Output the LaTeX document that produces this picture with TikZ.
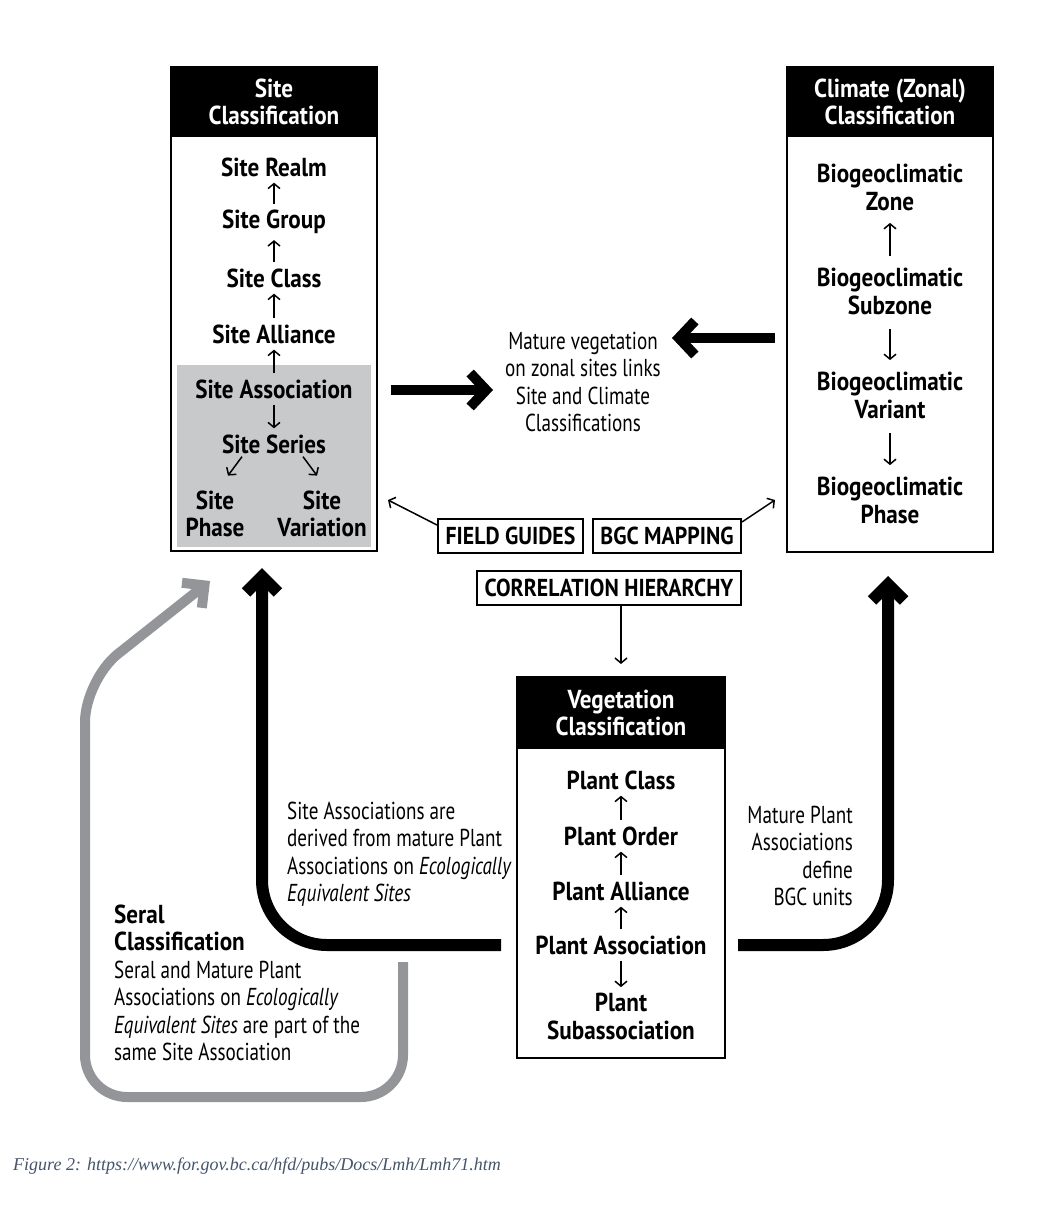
\documentclass[tikz,border=0pt]{standalone}
\usepackage{fontspec}
\setmainfont[FakeStretch=0.89]{PT Sans}
\newfontfamily\notefont[FakeStretch=0.78]{PT Sans}
\newfontfamily\capfont{Liberation Serif}
\usetikzlibrary{arrows.meta,positioning}
\definecolor{shade}{HTML}{C8C9CB}
\definecolor{loopgray}{HTML}{939598}
\definecolor{capcol}{HTML}{44546A}

\begin{document}
\begin{tikzpicture}[x=1pt,y=-1pt,>={Straight Barb[length=5pt,width=12pt]},
  frame/.style={draw,line width=2pt,minimum width=206pt,inner sep=0pt},
  head/.style={fill=black,text=white,align=center,minimum width=206pt,minimum height=71pt,
    inner sep=0pt,font=\bfseries\fontsize{26}{27}\selectfont},
  item/.style={align=center,inner sep=0pt,font=\bfseries\fontsize{26}{27.5}\selectfont},
  note/.style={inner sep=0pt,font=\notefont\fontsize{24.5}{27.5}\selectfont},
  tag/.style={draw,line width=2pt,minimum height=34pt,inner sep=3pt,font=\bfseries\fontsize{24.5}{27}\selectfont},
  thin/.style={->,line width=1.5pt,shorten <=6pt,shorten >=6pt},
  fat/.style={-{Straight Barb[length=16pt,width=34pt]},line width=10pt},
  loop/.style={-{Straight Barb[length=16pt,width=32pt]},line width=12pt,rounded corners=65pt}]

  \useasboundingbox (0,0) rectangle (1042,1208);

  % site classification
  \node[frame,minimum height=484pt] (siteBox) at (274,309) {};
  \node[fill=shade,minimum width=194pt,minimum height=182pt,inner sep=0pt,anchor=south] (assocZone) at ([yshift=5pt]siteBox.south) {};
  \node[head,anchor=north] (siteHead) at (siteBox.north) {Site\\Classification};
  \node[item] (sRealm) at (274,167) {Site Realm};
  \node[item] (sGroup) at (274,222) {Site Group};
  \node[item] (sClass) at (274,278) {Site Class};
  \node[item] (sAlliance) at (274,334) {Site Alliance};
  \node[item] (sAssoc) at (274,389) {Site Association};
  \node[item] (sSeries) at (274,444) {Site Series};
  \node[item] (sPhase) at (215,514) {Site\\Phase};
  \node[item] (sVar) at (322,514) {Site\\Variation};
  \draw[thin] (sGroup) -- (sRealm);
  \draw[thin] (sClass) -- (sGroup);
  \draw[thin] (sAlliance) -- (sClass);
  \draw[thin] (sAssoc) -- (sAlliance);
  \draw[thin] (sAssoc) -- (sSeries);
  \draw[thin,shorten <=0pt,shorten >=0pt] ([xshift=-32pt,yshift=-3pt]sSeries.south) -- ([xshift=13pt,yshift=15pt]sPhase.north);
  \draw[thin,shorten <=0pt,shorten >=0pt] ([xshift=29pt,yshift=-3pt]sSeries.south) -- ([xshift=-5pt,yshift=15pt]sVar.north);

  % climate classification
  \node[frame,minimum height=485pt] (climBox) at (890,309.5) {};
  \node[head,anchor=north] (climHead) at (climBox.north) {Climate (Zonal)\\Classification};
  \node[item] (cZone) at (890,187.5) {Biogeoclimatic\\Zone};
  \node[item] (cSubzone) at (890,291.5) {Biogeoclimatic\\Subzone};
  \node[item] (cVariant) at (890,395.5) {Biogeoclimatic\\Variant};
  \node[item] (cPhase) at (890,500.5) {Biogeoclimatic\\Phase};
  \draw[thin,shorten <=12pt,shorten >=12pt] (cSubzone) -- (cZone);
  \draw[thin,shorten <=14pt,shorten >=12pt] (cSubzone) -- (cVariant);
  \draw[thin,shorten <=14pt,shorten >=12pt] (cVariant) -- (cPhase);

  % links in the middle
  \node[note,align=center] (linkNote) at (583,382) {Mature vegetation\\on zonal sites links\\Site and Climate\\Classifications};
  \coordinate (linkR) at (672,338);
  \coordinate (linkL) at (493,390);
  \draw[fat,shorten <=11pt] ([yshift=-28.5pt]climBox.west) -- (linkR);
  \draw[fat,shorten <=13pt] ([yshift=-81pt]siteBox.east) -- (linkL);

  \node[tag,minimum width=145pt] (fieldGuides) at (510.5,536) {FIELD GUIDES};
  \node[tag,minimum width=148pt] (bgcMap) at (667,536) {BGC MAPPING};
  \node[tag,minimum width=264pt] (corrHier) at (609,588) {CORRELATION HIERARCHY};
  \draw[thin,shorten <=0pt,shorten >=0pt] ([yshift=-7pt]fieldGuides.north west) -- ([xshift=10pt,yshift=-191pt]siteBox.east);
  \draw[thin,shorten <=0pt,shorten >=0pt] ([yshift=-4pt]bgcMap.north east) -- ([xshift=-11pt,yshift=-190.5pt]climBox.west);

  % vegetation classification
  \node[frame,minimum width=208pt,minimum height=381pt] (vegBox) at (621,867.5) {};
  \node[head,minimum width=208pt,minimum height=73pt,anchor=north] (vegHead) at (vegBox.north) {Vegetation\\Classification};
  \node[item] (pClass) at (621,780) {Plant Class};
  \node[item] (pOrder) at (621,836) {Plant Order};
  \node[item] (pAlliance) at (621,891) {Plant Alliance};
  \node[item] (pAssoc) at (621,945) {Plant Association};
  \node[item] (pSub) at (621,1016.5) {Plant\\Subassociation};
  \draw[thin] (pOrder) -- (pClass);
  \draw[thin] (pAlliance) -- (pOrder);
  \draw[thin] (pAssoc) -- (pAlliance);
  \draw[thin] (pAssoc) -- (pSub);
  \draw[thin,shorten <=0pt,shorten >=12pt] (vegHead.north |- corrHier.south) -- (vegHead.north);

  % loops back up
  \draw[loop,shorten <=15pt,shorten >=16pt] (vegBox.west |- pAssoc) -| ([xshift=-12pt]siteBox.south);
  \draw[loop,shorten <=12pt,shorten >=23pt] (vegBox.east |- pAssoc) -| ([xshift=-2pt]climBox.south);
  \coordinate (seralIn) at (403,962);
  \coordinate (seralTip) at ([xshift=-64pt,yshift=-29pt]siteBox.south);
  \draw[loop,draw=loopgray,line width=10pt,rounded corners=42pt] (seralIn) -- (403,1097) -- (85,1097) -- (85,680) -- (seralTip);

  \node[note,align=left,anchor=west] (derivedNote) at (287,854) {Site Associations are\\derived from mature Plant\\Associations on \textit{Ecologically}\\\textit{Equivalent Sites}};
  \node[note,align=right,anchor=east] (definesNote) at (853,856) {Mature Plant\\Associations\\define\\BGC units};
  \node[note,align=left,anchor=west] (seralNote) at (114,983) {{\rmfamily\bfseries\fontsize{26}{27}\selectfont Seral}\\{\rmfamily\bfseries\fontsize{26}{27}\selectfont Classification}\\Seral and Mature Plant\\Associations on \textit{Ecologically}\\\textit{Equivalent Sites} are part of the\\same Site Association};

  \node[anchor=west,inner sep=0pt,text=capcol,font=\capfont\itshape\fontsize{18}{20}\selectfont] (caption) at (13,1166) {Figure 2: https://www.for.gov.bc.ca/hfd/pubs/Docs/Lmh/Lmh71.htm};
\end{tikzpicture}
\end{document}
